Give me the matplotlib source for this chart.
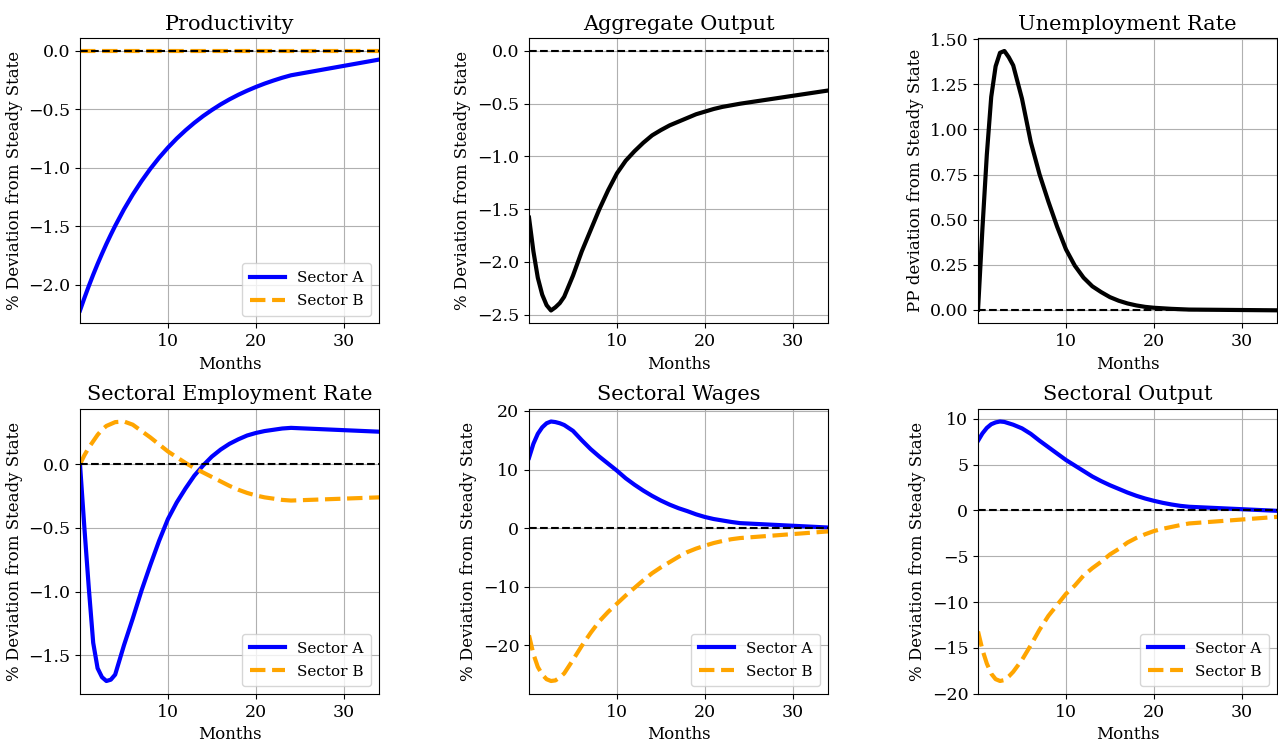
import numpy as np
import matplotlib
matplotlib.use("Agg")
import matplotlib.pyplot as plt
from matplotlib.ticker import FormatStrFormatter

plt.rcParams['font.family'] = ['DejaVu Serif']
plt.rcParams['mathtext.fontset'] = 'dejavuserif'

# months after the shock (last point lies past the visible window)
months = [0, 0.5, 1, 1.5, 2, 2.5, 3, 3.5, 4, 5, 6, 7, 8, 9, 10, 11, 12, 13, 14,
          15, 16, 17, 18, 19, 20, 21, 22, 23, 24, 36]

prod_a = [-2.22, -2.113, -2.011, -1.914, -1.822, -1.735, -1.651, -1.572, -1.496, -1.355,
          -1.228, -1.113, -1.008, -0.913, -0.827, -0.749, -0.679, -0.615, -0.557, -0.505,
          -0.457, -0.414, -0.375, -0.340, -0.308, -0.279, -0.253, -0.229, -0.208, -0.047]
prod_b = [0.0] * len(months)

agg_output = [-1.58, -1.90, -2.15, -2.31, -2.41, -2.46, -2.43, -2.39, -2.33, -2.13,
              -1.90, -1.70, -1.50, -1.32, -1.16, -1.04, -0.95, -0.87, -0.80, -0.75,
              -0.705, -0.67, -0.635, -0.60, -0.575, -0.55, -0.53, -0.515, -0.50, -0.35]

unemp = [0.0, 0.45, 0.86, 1.18, 1.35, 1.425, 1.435, 1.40, 1.355, 1.17,
         0.93, 0.75, 0.60, 0.46, 0.335, 0.245, 0.178, 0.13, 0.098, 0.07,
         0.05, 0.035, 0.024, 0.016, 0.011, 0.008, 0.005, 0.003, 0.001, -0.004]

emp_a = [0.0, -0.50, -0.97, -1.40, -1.60, -1.67, -1.70, -1.69, -1.65, -1.42,
         -1.21, -0.99, -0.79, -0.60, -0.43, -0.30, -0.19, -0.09, -0.01, 0.06,
         0.115, 0.16, 0.195, 0.225, 0.245, 0.26, 0.27, 0.28, 0.285, 0.249]
emp_b = [0.0, 0.07, 0.13, 0.18, 0.23, 0.27, 0.30, 0.315, 0.33, 0.335,
         0.31, 0.26, 0.21, 0.155, 0.10, 0.055, 0.01, -0.03, -0.065, -0.10,
         -0.135, -0.17, -0.20, -0.225, -0.245, -0.26, -0.27, -0.28, -0.285, -0.255]

wage_a = [12.0, 14.4, 16.1, 17.2, 17.9, 18.2, 18.1, 17.9, 17.6, 16.6,
          15.0, 13.5, 12.2, 11.0, 9.8, 8.5, 7.4, 6.4, 5.5, 4.7,
          4.0, 3.4, 2.9, 2.35, 1.9, 1.55, 1.3, 1.05, 0.85, -0.05]
wage_b = [-18.3, -21.5, -23.7, -25.0, -25.8, -26.1, -26.0, -25.5, -24.8, -22.5,
          -20.1, -17.9, -15.9, -14.3, -12.9, -11.5, -10.2, -8.9, -7.7, -6.7,
          -5.8, -4.9, -4.1, -3.5, -3.0, -2.55, -2.2, -1.9, -1.7, -0.34]

out_a = [7.6, 8.4, 9.0, 9.4, 9.6, 9.7, 9.65, 9.5, 9.35, 8.95,
         8.35, 7.6, 6.9, 6.2, 5.5, 4.9, 4.3, 3.7, 3.2, 2.75,
         2.35, 1.95, 1.6, 1.3, 1.05, 0.83, 0.65, 0.5, 0.4, -0.13]
out_b = [-13.2, -15.2, -16.7, -17.8, -18.4, -18.6, -18.5, -18.1, -17.6, -16.3,
         -14.7, -13.0, -11.5, -10.3, -9.1, -8.2, -7.1, -6.3, -5.6, -4.8,
         -4.2, -3.5, -3.0, -2.6, -2.25, -2.0, -1.8, -1.6, -1.42, -0.56]

TITLE_FS = 15
LABEL_FS = 12
TICK_FS = 12.5
LEG_FS = 11


def finish(ax, title, ylabel):
    ax.set_title(title, fontsize=TITLE_FS)
    ax.set_xlabel('Months', fontsize=LABEL_FS)
    ax.set_ylabel(ylabel, fontsize=LABEL_FS)
    ax.set_xlim(0, 34)
    ax.set_xticks([10, 20, 30])
    ax.tick_params(labelsize=TICK_FS)
    ax.grid(True)


def two_sector(ax, a, b, title):
    ax.plot(months, a, color='blue', lw=3, label='Sector A')
    ax.plot(months, b, color='orange', lw=3, ls='--', label='Sector B')
    ax.axhline(0, color='black', ls='--', lw=1.5)
    finish(ax, title, '% Deviation from Steady State')
    ax.legend(loc='lower right', fontsize=LEG_FS, handlelength=2.3,
              labelspacing=0.6, borderpad=0.5)


def one_line(ax, y, title, ylabel):
    ax.plot(months, y, color='black', lw=3)
    ax.axhline(0, color='black', ls='--', lw=1.5)
    finish(ax, title, ylabel)


fig, axes = plt.subplots(2, 3, figsize=(12.78, 7.45), dpi=100)
fig.subplots_adjust(left=0.0626, right=0.9992, bottom=0.0685, top=0.949,
                    wspace=0.502, hspace=0.298)

two_sector(axes[0, 0], prod_a, prod_b, 'Productivity')
one_line(axes[0, 1], agg_output, 'Aggregate Output', '% Deviation from Steady State')
one_line(axes[0, 2], unemp, 'Unemployment Rate', 'PP deviation from Steady State')
axes[0, 2].set_yticks([0, 0.25, 0.5, 0.75, 1.0, 1.25, 1.5])
axes[0, 2].yaxis.set_major_formatter(FormatStrFormatter('%.2f'))
two_sector(axes[1, 0], emp_a, emp_b, 'Sectoral Employment Rate')
two_sector(axes[1, 1], wage_a, wage_b, 'Sectoral Wages')
two_sector(axes[1, 2], out_a, out_b, 'Sectoral Output')

fig.savefig('out.png', dpi=100)
